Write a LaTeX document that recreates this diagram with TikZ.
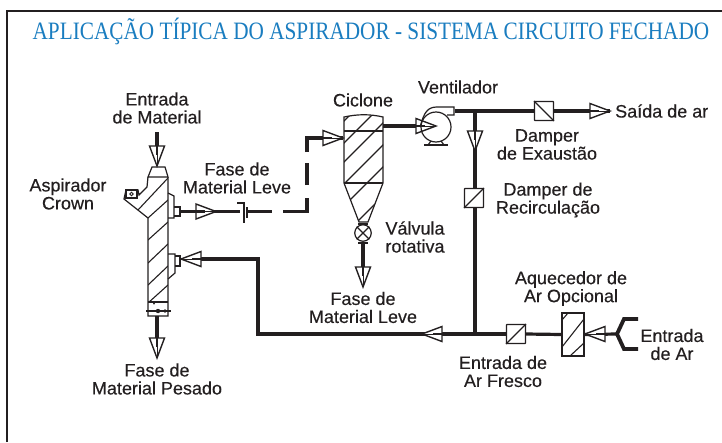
\documentclass[tikz,border=0pt]{standalone}
\usepackage{fontspec}
\setmainfont{Liberation Sans}
\newfontfamily\titlefont{Liberation Serif}
\newfontfamily\lblfont[FakeBold=0.3]{Liberation Sans}
\usetikzlibrary{calc}
\definecolor{inkc}{HTML}{231F20}
\definecolor{titleblue}{HTML}{1A7DC0}
\tikzset{
  x=1pt,y=-1pt,
  lbl/.style={font=\lblfont\fontsize{18}{18}\selectfont,text=inkc,align=center,inner sep=0pt},
  pipe/.style={draw=inkc,line width=3.2pt},
  pipesl/.style={draw=inkc,line width=2.6pt},
  outl/.style={draw=inkc,line width=1.2pt},
  hatchl/.style={draw=inkc,line width=1.1pt},
  damperbox/.style={draw=inkc,line width=1.2pt,fill=white,rectangle,minimum width=19pt,minimum height=19pt,inner sep=0pt,rounded corners=0.5pt},
  arrowtri/.pic={
    \draw[fill=white,draw=inkc,line width=1.4pt] (-20,-7.5) -- (0,0) -- (-20,7.5) -- cycle;
    \draw[draw=inkc,line width=2.6pt] (-23,0) -- (-11,0);
    \draw[draw=inkc,line width=0.8pt] (-11,0) -- (0,0);
  }
}
\begin{document}
\begin{tikzpicture}
\useasboundingbox (0,0) rectangle (722,442);
\fill[white] (0,0) rectangle (722,442);
\draw[inkc,line width=2.2pt] (7,442) -- (7,11) -- (722,11);
\node[inner sep=0pt,text=titleblue] (title) at (371,31) {\scalebox{0.85}[1]{\titlefont\fontsize{25}{26}\selectfont APLICAÇÃO TÍPICA DO ASPIRADOR - SISTEMA CIRCUITO FECHADO}};

% --- vessel
\begin{scope}
\clip (148,177) -- (147,187) -- (139,195) -- (124,199) -- (148,218) -- (148,302) -- (168,302) -- (168,177) -- cycle;
\foreach \a/\b/\c/\d in {138/210/168/178, 148/218/168/200, 148/240/168/222, 148/263/168/244, 148/285/168/266, 148/303/168/285}
  \draw[hatchl] (\a,\b) -- (\c,\d);
\end{scope}
\draw[outl] (148,177) -- (152,167) -- (165,167) -- (168,177) -- cycle;
\draw[outl] (168,177) -- (168,316) -- (148,316) -- (148,218) -- (124,199) -- (126,190) -- (138,190) -- (139,195) -- (147,187) -- (148,177);
\draw[outl] (126,190) rectangle (137,198);
\draw[inkc,line width=0.8pt] (131.5,194) circle (1.8);
\draw[outl] (148,302) -- (168,302);
\draw[inkc,line width=1.7pt] (146,311) -- (171,311);
\fill[inkc] (158,311) circle (2.2) (165,311) circle (1.8) (154,303.5) circle (1);
\draw[outl] (168,193) -- (174,196) -- (174,218) -- (168,218);
\draw[outl] (174,207) -- (180,207) -- (180,216) -- (174,216);
\draw[outl] (168,254) -- (175,254) -- (175,273) -- (168,279);
\draw[outl] (175,256) -- (180,256) -- (180,266) -- (175,266);

% --- cyclone
\begin{scope}
\clip (344,117) .. controls (358,114) and (370,114) .. (383,117) -- (383,183) -- (367,222) -- (359,222) -- (344,183) -- cycle;
\foreach \c in {465,487,506,528,550,579}
  \draw[hatchl] ($(340,\c-340)$) -- ($(395,\c-395)$);
\end{scope}
\draw[outl] (344,117) .. controls (358,114) and (370,114) .. (383,117) -- (383,183) -- (368,222) -- (359,222) -- (344,183) -- cycle;
\draw[outl] (344,131) -- (383,131);
\draw[outl] (344,183) -- (383,183);

% --- named items
\node[damperbox] (dexh) at (544,111) {};
\node[damperbox] (drec) at (474,198) {};
\node[damperbox] (dfresh) at (516,334) {};
\node[draw=inkc,line width=1.3pt,fill=white,rectangle,minimum width=22pt,minimum height=43pt,inner sep=0pt] (heater) at (573,334.5) {};
\node[draw=inkc,line width=1.2pt,fill=white,circle,minimum size=16.5pt,inner sep=0pt] (valve) at (363,233) {};
\coordinate (vin) at (157,132);
\coordinate (vout) at (180,211.5);
\coordinate (cap) at (240,211.5);
\coordinate (capb) at (248,211.5);
\coordinate (d1e) at (272,211.5);
\coordinate (d2s) at (283,211.5);
\coordinate (c1) at (307,211.5);
\coordinate (c1u) at (307,198);
\coordinate (d3s) at (307,185);
\coordinate (d3e) at (307,163);
\coordinate (d4s) at (307,152);
\coordinate (c2) at (307,138);
\coordinate (cyin) at (343,138);
\coordinate (cyout) at (383,126);
\coordinate (fantip) at (436,126);
\coordinate (fanout) at (455,111);
\coordinate (tee) at (475,111);
\coordinate (tee2) at (475,334);
\coordinate (sai) at (610,111);
\coordinate (corner1) at (258,259);
\coordinate (corner2) at (258,334);
\coordinate (fork) at (617,334);
\coordinate (vbot) at (363,244);
\coordinate (vbotend) at (363,270);
\coordinate (pesin) at (157,316);
\coordinate (pesend) at (157,340);

% --- valve details
\draw[inkc,line width=1.1pt] (valve.north west) -- (valve.south east) (valve.north east) -- (valve.south west);
\draw[inkc,line width=1.8pt] (358,224) -- (368,224) (358,243) -- (368,243);

% --- pipes
\draw[pipe] (vin) -- (157,146);
\draw[pipe] (vout) -- (205,211.5);
\draw[pipesl] (205,211.5) -- (cap);
\draw[pipe] (capb) -- (d1e) (d2s) -- (c1) -- (c1u) (d3s) -- (d3e) (d4s) -- (c2) -- (cyin);
\draw[pipe] (cyout) -- (416,126);
\draw[pipe] (fanout) -- (dexh.west) (dexh.east) -- (sai);
\draw[pipe] (tee) -- (drec.north -| tee) (drec.south -| tee) -- (tee2);
\draw[pipe] (vbot) -- (vbotend);
\draw[pipe] (pesin) -- (pesend);
\draw[pipe] (200,259) -- (corner1) -- (corner2) -- (dfresh.west);
\draw[pipe] (dfresh.east) -- (heater.west);
\draw[pipe] (heater.east) -- (fork);
\draw[inkc,line width=3.8pt] (638,319) -- (624,319) -- (617,334) -- (624,349) -- (638,349);
\draw[inkc,line width=1.4pt] (237,203) -- (244,203) -- (244,223) (247,207) -- (247,218);

% --- arrowheads
\pic[rotate=-90] at (157,166) {arrowtri};
\pic at (216,211.5) {arrowtri};
\pic at (343,138) {arrowtri};
\pic at (436,126) {arrowtri};
\pic at (610,111) {arrowtri};
\pic[rotate=-90] at (475,151) {arrowtri};
\pic[rotate=-90] at (363,287) {arrowtri};
\pic[rotate=-90] at (157,358) {arrowtri};
\pic[rotate=180] at (181,259) {arrowtri};
\pic[rotate=180] at (422,334) {arrowtri};
\pic[rotate=180] at (585,334) {arrowtri};

% --- fan, drawn over its arrowhead
\node[draw=inkc,line width=1.2pt,circle,minimum size=30pt,inner sep=0pt] (fan) at (436,127) {};
\draw[outl] (fan.west) ++(0,-1) .. controls (424,112) and (428,107) .. (437,107) -- (454,107) -- (454,115) -- (447,115);
\draw[outl] (428,145) -- (431,141) (444,145) -- (441,141);
\draw[inkc,line width=2pt] (424,145) -- (448,145);

% --- damper blades and heater hatch
\draw[hatchl] (dexh.north west) -- (dexh.south east);
\draw[hatchl] (drec.south west) -- (drec.north east);
\draw[hatchl] (dfresh.south west) -- (dfresh.north east);
\draw[hatchl] (562,320) -- (568,313);
\draw[hatchl] (562,347) -- (584,319);
\draw[hatchl] (570,356) -- (584,343);

% --- labels
\node[lbl] (l1) at (157,108) {Entrada\\de Material};
\node[lbl] (l2) at (68,194) {Aspirador\\Crown};
\node[lbl] (l3) at (237,178) {Fase de\\Material Leve};
\node[lbl] (l4) at (363,100) {Ciclone};
\node[lbl] (l5) at (458,87) {Ventilador};
\node[lbl,anchor=west] (l6) at (615,111) {Saída de ar};
\node[lbl] (l7) at (547,144.5) {Damper\\de Exaustão};
\node[lbl] (l8) at (548,200) {Damper de\\Recirculação};
\node[lbl] (l9) at (415,237) {Válvula\\rotativa};
\node[lbl] (l10) at (363,307.5) {Fase de\\Material Leve};
\node[lbl] (l11) at (157,379) {Fase de\\Material Pesado};
\node[lbl] (l12) at (571,288.5) {Aquecedor de\\Ar Opcional};
\node[lbl] (l13) at (503,371.5) {Entrada de\\Ar Fresco};
\node[lbl] (l14) at (672,344.5) {Entrada\\de Ar};
\end{tikzpicture}
\end{document}
